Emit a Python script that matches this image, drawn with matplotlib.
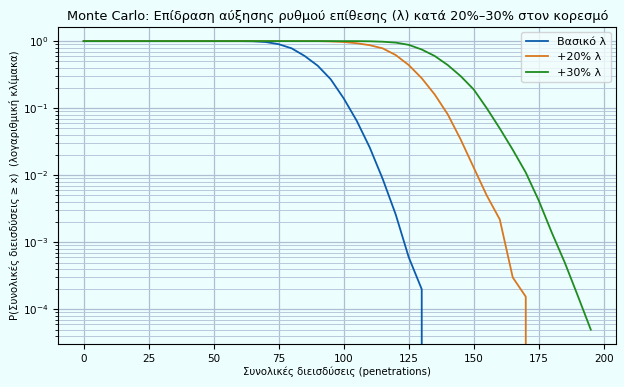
import numpy as np
import matplotlib
matplotlib.use("Agg")
import matplotlib.pyplot as plt

# penetrations grid (step 5)
x_vals = list(range(0, 200, 5))

# survival P(total >= x); 0 beyond the last observed value
base_sf = [1.0] * 13 + [0.995, 0.97, 0.9, 0.78, 0.6, 0.43, 0.27, 0.14, 0.065,
                        0.026, 0.0088, 0.0026, 6e-4, 2e-4] + [0.0] * 13
plus20_sf = [1.0] * 19 + [0.99, 0.97, 0.93, 0.87, 0.78, 0.62, 0.44, 0.28, 0.16,
                          0.081, 0.034, 0.013, 0.005, 0.0022, 3e-4, 1.55e-4] + [0.0] * 5
plus30_sf = [1.0] * 22 + [0.995, 0.98, 0.95, 0.88, 0.75, 0.6, 0.44, 0.3, 0.19,
                          0.1, 0.05, 0.024, 0.011, 0.0042, 0.0014, 5e-4, 1.6e-4, 5e-5]

series_labels = ["Βασικό λ", "+20% λ", "+30% λ"]
series_colors = ["#0b5cad", "#d9771e", "#1e8c1e"]

bg = "#ecfefe"
fig = plt.figure(figsize=(6.24, 3.87), dpi=100, facecolor=bg)
ax = fig.add_axes([0.0934, 0.111, 0.894, 0.820], facecolor=bg)

for ys, lab, col in zip([base_sf, plus20_sf, plus30_sf], series_labels, series_colors):
    ax.plot(x_vals, ys, color=col, linewidth=1.3, label=lab)

ax.set_yscale("log")
ax.set_xticks(range(0, 201, 25))
ax.grid(True, which="major", color="#aebfd4", linewidth=0.9)
ax.grid(True, which="minor", color="#b9c8da", linewidth=0.7)
ax.set_axisbelow(True)
ax.tick_params(labelsize=7.5)

ax.set_title("Monte Carlo: Επίδραση αύξησης ρυθμού επίθεσης (λ) κατά 20%–30% στον κορεσμό",
             fontsize=9.3, pad=5)
ax.set_xlabel("Συνολικές διεισδύσεις (penetrations)", fontsize=7.3, labelpad=2)
ax.set_ylabel("P(Συνολικές διεισδύσεις ≥ x)  (λογαριθμική κλίμακα)", fontsize=7.3, labelpad=2)
ax.legend(loc="upper right", fontsize=8, facecolor="#f3fdfd")

fig.savefig("out.png", dpi=100, facecolor=bg)
